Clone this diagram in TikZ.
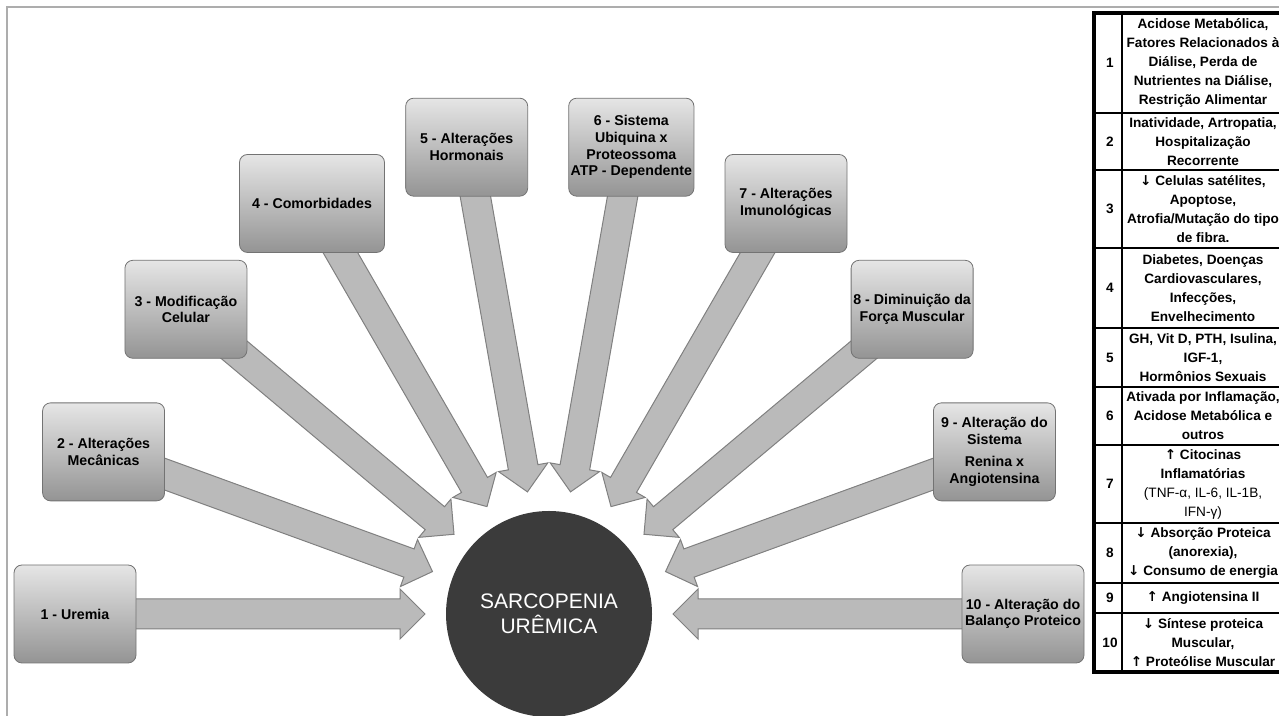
\documentclass[tikz,border=0pt]{standalone}
\usepackage{fontspec}
\setmainfont{Liberation Sans}
\newfontfamily\arrowfont{DejaVu Sans}
\newcommand{\dn}{{\arrowfont ↓}}
\newcommand{\up}{{\arrowfont ↑}}
\usepackage{tikz}
\usetikzlibrary{arrows.meta, calc, positioning, backgrounds}

% 块状箭头：#1 = 起点节点，#2 = 箭头尖端坐标
\newcommand{\blockarrow}[2]{%
    \coordinate (h) at ($(#2)!12.5pt!(#1.center)$);
    \filldraw[feed] (#2) -- ($(h)!12.5pt!90:(#1.center)$) -- ($(h)!7.5pt!90:(#1.center)$)
        -- ($(#1.center)!7.5pt!-90:(h)$) -- ($(#1.center)!7.5pt!90:(h)$)
        -- ($(h)!7.5pt!-90:(#1.center)$) -- ($(h)!12.5pt!-90:(#1.center)$) -- cycle;}

\begin{document}
\begin{tikzpicture}[x=0.5pt, y=0.5pt,
    cause/.style={draw=black!55, rounded corners=4pt, top color=black!10, bottom color=black!42,
        minimum height=49pt, align=center, inner sep=1pt,
        font=\fontsize{7.1}{8.3}\selectfont\bfseries},
    feed/.style={fill=black!27, draw=black!50, line width=0.5pt},
    cell/.style={align=center, inner sep=0pt, font=\fontsize{6.8}{9.5}\selectfont\bfseries}]
    \useasboundingbox (0,0) rectangle (1279,716);
    \clip (0,0) rectangle (1279,716);

    % 外框
    \draw[black!32, line width=1pt] (7,0) -- (7,709) -- (1279,709);

    % 中心圆
    \node[circle, fill=black!77, minimum size=103pt, text=white, align=center,
        font=\fontsize{10.5}{12.5}\selectfont] (core) at (549,102) {SARCOPENIA\\URÊMICA};

    % 十个因素，沿半圆排列
    \foreach \i/\bw/\txt in {
        1/61pt/{1 - Uremia},
        2/61pt/{2 - Alterações\\Mecânicas},
        3/61pt/{3 - Modificação\\Celular},
        4/72.5pt/{4 - Comorbidades},
        5/61pt/{5 - Alterações\\Hormonais},
        6/61pt/{6 - Sistema\\Ubiquina x\\Proteossoma\\ATP - Dependente},
        7/61pt/{7 - Alterações\\Imunológicas},
        8/61pt/{8 - Diminuição da\\Força Muscular},
        9/61pt/{9 - Alteração do\\Sistema\\[3pt]Renina x\\Angiotensina},
        10/61pt/{10 - Alteração do\\Balanço Proteico}} {
        \pgfmathsetmacro\ang{200-20*\i}
        \node[cause, minimum width=\bw] (b\i) at ($(core.center)+(\ang:474)$) {\txt};
        \coordinate (t\i) at ($(core.center)+(\ang:124)$);
    }

    % 箭头放在背景层
    \begin{pgfonlayer}{background}
        \foreach \i in {1,...,10} {\blockarrow{b\i}{t\i}}
    \end{pgfonlayer}

    % 右侧表格
    \draw[line width=2pt] (1094,703) rectangle (1284,44);
    \draw[line width=0.8pt] (1122,703) -- (1122,44);
    \foreach \y in {603,546,468,388,329,271,193,133,103}
        \draw[line width=0.7pt] (1094,\y) -- (1284,\y);
    \foreach \k/\yt/\yb/\txt in {
        1/703/603/{Acidose Metabólica,\\Fatores Relacionados à\\Diálise, Perda de\\Nutrientes na Diálise,\\Restrição Alimentar},
        2/603/546/{Inatividade, Artropatia,\\Hospitalização\\Recorrente},
        3/546/468/{\dn{} Celulas satélites,\\Apoptose,\\Atrofia/Mutação do tipo\\de fibra.},
        4/468/388/{Diabetes, Doenças\\Cardiovasculares,\\Infecções,\\Envelhecimento},
        5/388/329/{GH, Vit D, PTH, Isulina,\\IGF-1,\\Hormônios Sexuais},
        6/329/271/{Ativada por Inflamação,\\Acidose Metabólica e\\outros},
        7/271/193/{\up{} Citocinas\\Inflamatórias\\{\mdseries (TNF-α, IL-6, IL-1B,}\\{\mdseries IFN-γ)}},
        8/193/133/{\dn{} Absorção Proteica\\(anorexia),\\\dn{} Consumo de energia},
        9/133/103/{\up{} Angiotensina II},
        10/103/44/{\dn{} Síntese proteica\\Muscular,\\\up{} Proteólise Muscular}} {
        \node[cell] (n\k) at (1110,{(\yt+\yb)/2}) {\k};
        \node[cell] (d\k) at (1203,{(\yt+\yb)/2}) {\txt};
    }
\end{tikzpicture}
\end{document}
